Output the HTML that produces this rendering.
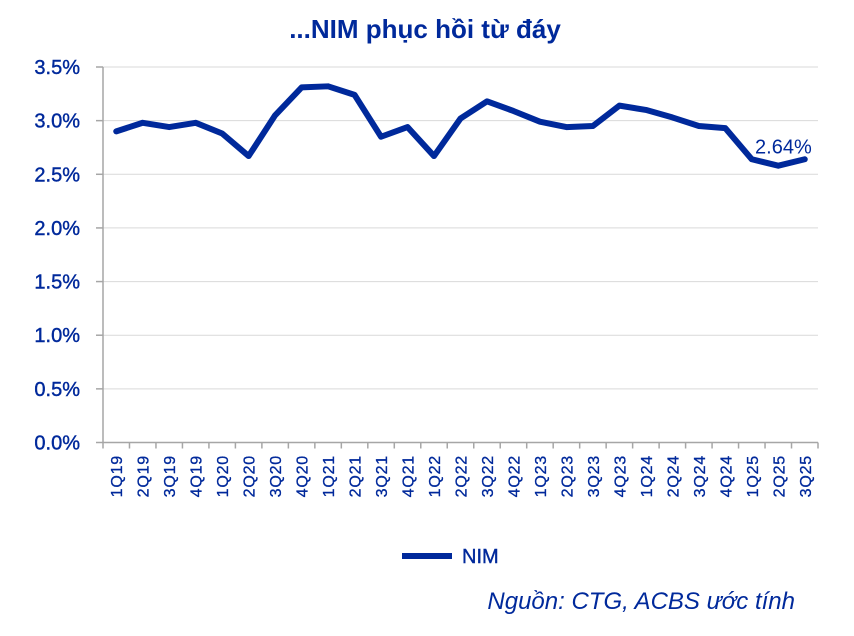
<!DOCTYPE html>
<html><head><meta charset="utf-8"><style>
body{margin:0;background:#fff;}
svg{display:block;font-family:"Liberation Sans","DejaVu Sans",sans-serif;}
</style></head><body>
<svg id="chart" width="854" height="636" viewBox="0 0 854 636">
<text x="425" y="38" text-anchor="middle" font-size="26" font-weight="bold" fill="#00299b">...NIM phục hồi từ đáy</text>
<g id="grid"></g><g id="yt"></g><g id="xt"></g><g id="ser"></g>
<line x1="402" y1="556" x2="452" y2="556" stroke="#00299b" stroke-width="6"/>
<text x="462" y="563" font-size="20" fill="#00299b" stroke="#00299b" stroke-width="0.4">NIM</text>
<text x="795" y="609" text-anchor="end" font-size="24" font-style="italic" fill="#00299b">Nguồn: CTG, ACBS ước tính</text>
</svg>
<script>
const categories=["1Q19","2Q19","3Q19","4Q19","1Q20","2Q20","3Q20","4Q20","1Q21","2Q21","3Q21","4Q21","1Q22","2Q22","3Q22","4Q22","1Q23","2Q23","3Q23","4Q23","1Q24","2Q24","3Q24","4Q24","1Q25","2Q25","3Q25"];
const nimValues=[2.90,2.98,2.94,2.98,2.88,2.67,3.05,3.31,3.32,3.24,2.85,2.94,2.67,3.02,3.18,3.09,2.99,2.94,2.95,3.14,3.10,3.03,2.95,2.93,2.64,2.58,2.64];
const yTicks=[0,0.5,1.0,1.5,2.0,2.5,3.0,3.5];
const NS="http://www.w3.org/2000/svg";
const X0=103,X1=818,Y0=442.5,Y1=67,YMAX=3.5;
const bw=(X1-X0)/categories.length;
const xs=i=>X0+bw*(i+0.5);
const ys=v=>Y0-(v/YMAX)*(Y0-Y1);
function mk(t,a,p){const e=document.createElementNS(NS,t);for(const k in a)e.setAttribute(k,a[k]);p.appendChild(e);return e;}
const grid=document.getElementById('grid'),yt=document.getElementById('yt'),xt=document.getElementById('xt'),ser=document.getElementById('ser');
yTicks.forEach(v=>{
 const y=ys(v);
 if(v>0){const g=mk('line',{x1:X0,x2:X1,y1:y,y2:y,stroke:'#d9d9d9','stroke-width':1},grid);
 
 }
 mk('line',{x1:X0-7,x2:X0,y1:y,y2:y,stroke:'#a6a6a6','stroke-width':1.5},grid);
 const t=mk('text',{x:80,y:y+7,'text-anchor':'end','font-size':20,fill:'#00299b',stroke:'#00299b','stroke-width':0.4},yt);
 t.textContent=v.toFixed(1)+'%';
 
 
});
mk('line',{x1:X0,x2:X0,y1:Y1,y2:Y0,stroke:'#a6a6a6','stroke-width':1.5},grid);
mk('line',{x1:X0,x2:X1,y1:Y0,y2:Y0,stroke:'#a6a6a6','stroke-width':1.5},grid);
for(let i=0;i<=categories.length;i++){const x=X0+bw*i;mk('line',{x1:x,x2:x,y1:Y0,y2:Y0+6,stroke:'#a6a6a6','stroke-width':1.5},grid);}
categories.forEach((c,i)=>{
 const x=xs(i)+6;
 const t=mk('text',{x:x,y:455,'text-anchor':'end','font-size':16,'letter-spacing':'0.8',fill:'#00299b',stroke:'#00299b','stroke-width':0.3,transform:`rotate(-90 ${x} 455)`},xt);
 t.textContent=c;
 
 
});
const pl=mk('polyline',{points:nimValues.map((v,i)=>xs(i)+','+ys(v)).join(' '),fill:'none',stroke:'#00299b','stroke-width':6,'stroke-linejoin':'round','stroke-linecap':'round'},ser);


const li=nimValues.length-1;
const lb=mk('text',{x:xs(li)+7,y:ys(nimValues[li])-6,'text-anchor':'end','font-size':20,fill:'#00299b'},ser);
lb.textContent=nimValues[li].toFixed(2)+'%';


</script>
</body></html>
